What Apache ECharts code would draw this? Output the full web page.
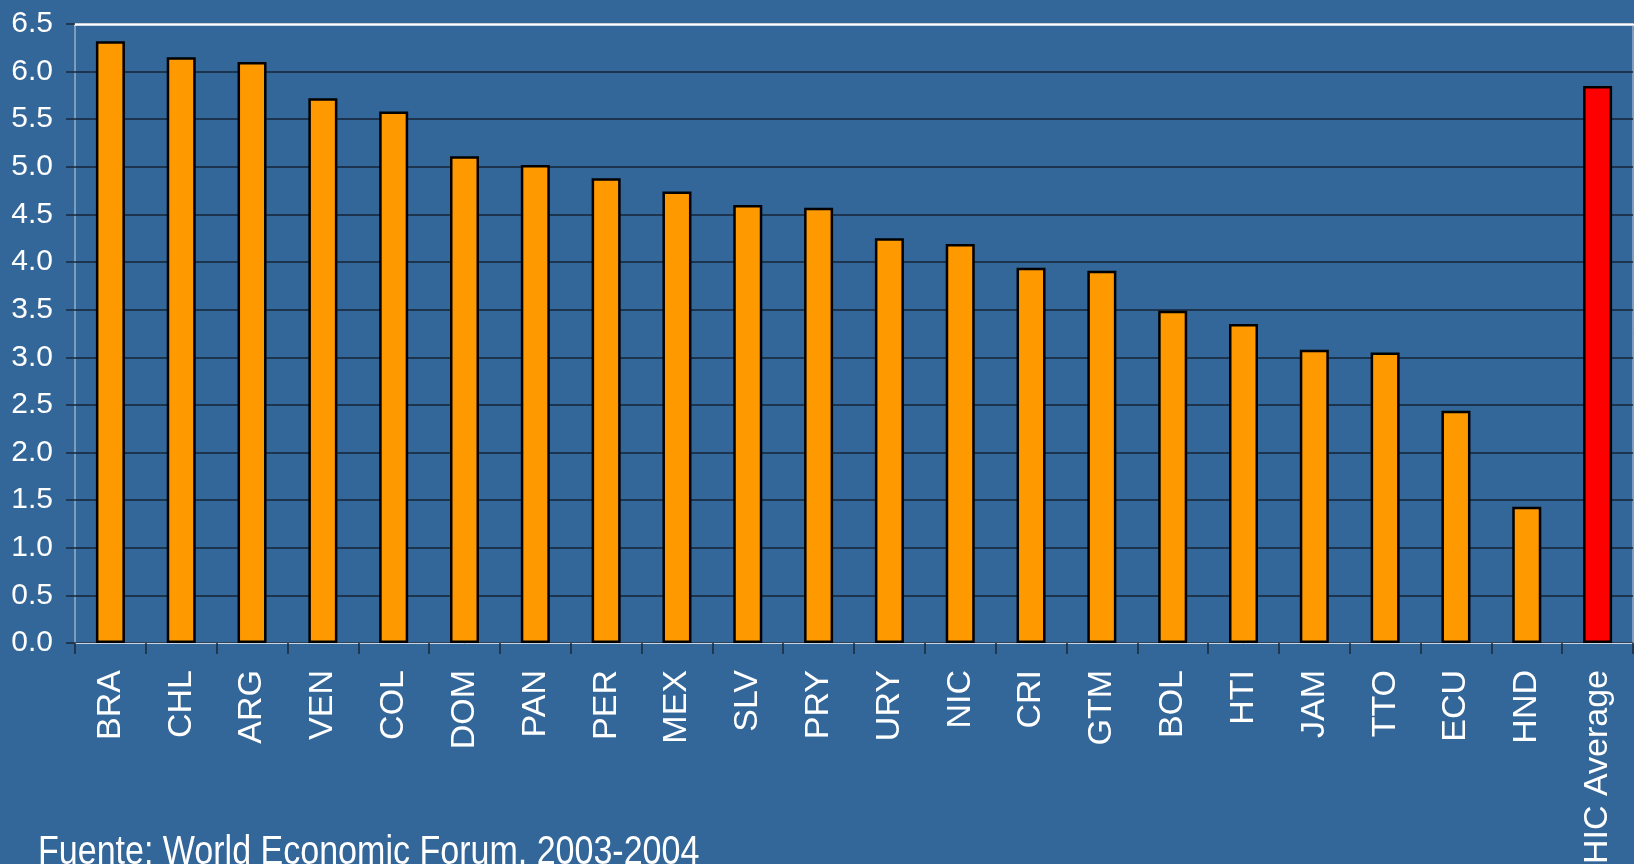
<!DOCTYPE html>
<html>
<head>
<meta charset="utf-8">
<style>
  html, body { margin: 0; padding: 0; background: #336699; }
  #chart { width: 1634px; height: 864px; }
</style>
<script src="https://cdn.jsdelivr.net/npm/echarts@6/dist/echarts.min.js"></script>
</head>
<body>
<div id="chart"></div>
<script>
// Country codes along the category axis
const categories = ['BRA', 'CHL', 'ARG', 'VEN', 'COL', 'DOM', 'PAN', 'PER', 'MEX', 'SLV', 'PRY',
  'URY', 'NIC', 'CRI', 'GTM', 'BOL', 'HTI', 'JAM', 'TTO', 'ECU', 'HND', 'HIC Average'];
// Score per country (last entry is the high-income average)
const values = [6.32, 6.15, 6.10, 5.72, 5.58, 5.11, 5.02, 4.88, 4.74, 4.60, 4.57,
  4.25, 4.19, 3.94, 3.91, 3.49, 3.35, 3.08, 3.05, 2.44, 1.43, 5.85];
// Categories drawn in the highlight colour
const highlighted = ['HIC Average'];
const sourceNote = 'Fuente: World Economic Forum, 2003-2004';

const sans = "'Liberation Sans', Arial, sans-serif";

const seriesData = values.map((v, i) => ({
  value: v,
  itemStyle: { color: highlighted.includes(categories[i]) ? '#ff0000' : '#ff9900' }
}));

const chart = echarts.init(document.getElementById('chart'), null, { renderer: 'canvas' });
chart.setOption({
  backgroundColor: '#336699',
  animation: false,
  grid: {
    left: 75, right: 1, top: 24, bottom: 221,
    outerBoundsMode: 'none',
    containLabel: false,
    show: true, borderColor: '#c9d5e3', borderWidth: 1, backgroundColor: 'transparent'
  },
  xAxis: [{
    type: 'category',
    data: categories,
    position: 'bottom',
    axisLine: { show: true, lineStyle: { color: '#c9d5e3', width: 1 } },
    axisTick: { show: true, length: 11, lineStyle: { color: '#1a2838', width: 1.5 } },
    axisLabel: {
      rotate: 90, margin: 27, color: '#ffffff',
      fontFamily: sans, fontSize: 34, interval: 0
    }
  }, {
    type: 'category',
    data: categories,
    position: 'top',
    axisLine: { show: true, lineStyle: { color: '#ffffff', width: 2.5 } },
    axisTick: { show: false },
    axisLabel: { show: false }
  }],
  yAxis: {
    type: 'value',
    min: 0, max: 6.5, interval: 0.5,
    axisLine: { show: false },
    axisTick: { show: true, length: 9, lineStyle: { color: '#1a2838', width: 1.5 } },
    axisLabel: {
      margin: 22, color: '#ffffff', fontFamily: sans, fontSize: 30,
      formatter: v => v.toFixed(1)
    },
    splitLine: { show: true, lineStyle: { color: '#172536', width: 1.5 } }
  },
  series: [{
    type: 'bar',
    data: seriesData,
    barWidth: 29,
    itemStyle: { borderColor: '#000000', borderWidth: 2.5 }
  }],
  graphic: [{
    type: 'text',
    x: 38,
    y: 832,
    scaleX: 0.83,
    style: {
      text: sourceNote,
      fill: '#ffffff',
      font: "41px " + sans
    }
  }]
});
</script>
</body>
</html>
